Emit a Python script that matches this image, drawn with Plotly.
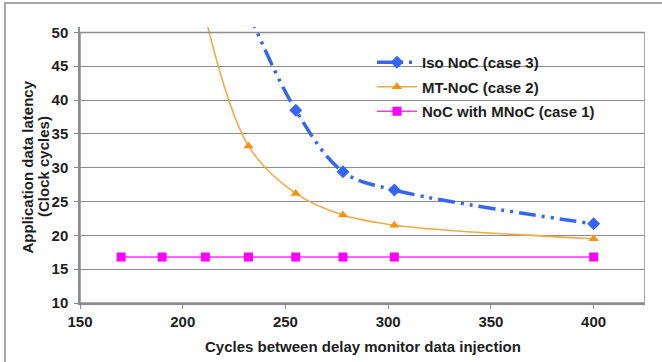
import plotly.graph_objects as go

# Injection interval (cycles) and resulting application data latency (clock cycles)
iso_x = [232, 255, 278, 303, 400]
iso_y = [53.0, 38.5, 29.4, 26.7, 21.7]

mt_x = [211, 232, 255, 278, 303, 400]
mt_y = [52.3, 33.2, 26.2, 23.0, 21.5, 19.5]

mnoc_x = [170, 190, 211, 232, 255, 278, 303, 400]
mnoc_y = [16.8, 16.8, 16.8, 16.8, 16.8, 16.8, 16.8, 16.8]

x_ticks = [150, 200, 250, 300, 350, 400]
y_ticks = [10, 15, 20, 25, 30, 35, 40, 45, 50]

y_title_lines = ["Application data latency", "(Clock cycles)"]

FONT = "Liberation Sans, Arial, sans-serif"
TXT = "#1e1e1e"
GRID = "#8c8c8c"
FS = 15

fig = go.Figure()

fig.add_trace(go.Scatter(
    x=iso_x, y=iso_y, name="Iso NoC (case 3)", legendgroup="a",
    mode="lines+markers", line=dict(color="#3366f5", width=3.5, shape="spline",
                                    dash="17px,6px,3px,6px,3px,6px"),
    marker=dict(symbol="diamond", size=10, color="#3366f5"),
))
fig.add_trace(go.Scatter(
    x=mt_x, y=mt_y, name="MT-NoC (case 2)", legendgroup="b",
    mode="lines+markers", line=dict(color="#f2aa45", width=1.6, shape="spline"),
    marker=dict(symbol="triangle-up", size=9, color="#f29311"),
))
fig.add_trace(go.Scatter(
    x=mnoc_x, y=mnoc_y, name="NoC with MNoC (case 1)", legendgroup="c",
    mode="lines+markers", line=dict(color="#ff33ff", width=1.6),
    marker=dict(symbol="square", size=9, color="#ff00ff"),
))

shapes = [
    # plot frame
    dict(type="rect", xref="x", yref="y", x0=150, x1=425, y0=10, y1=50,
         line=dict(color="#8c8c8c", width=1.5), layer="above"),
    # legend background hiding the gridlines
    dict(type="rect", xref="paper", yref="paper",
         x0=(357 - 80) / 565, x1=(608 - 80) / 565,
         y0=(303 - 126) / 276, y1=(303 - 40) / 276,
         fillcolor="white", line=dict(width=0), layer="between"),
    # outer chart border
    dict(type="rect", xref="paper", yref="paper",
         x0=(5 - 80) / 565, x1=1.2, y0=-0.5, y1=(303 - 3) / 276,
         line=dict(color="#a8a8a8", width=2)),
]

annotations = [
    dict(text="Cycles between delay monitor data injection", xref="paper", yref="paper",
         x=0.5, y=(303 - 346) / 276, xanchor="center", yanchor="middle",
         showarrow=False, font=dict(family=FONT, size=FS, color=TXT, weight="bold")),
]
# rotated y-axis title, one annotation per line for tighter line spacing
for line_text, px in zip(y_title_lines, [26.5, 43.0]):
    annotations.append(dict(
        text=line_text, xref="paper", yref="paper",
        x=(px - 80) / 565, y=(303 - 167) / 276, xanchor="center", yanchor="middle",
        textangle=-90, showarrow=False,
        font=dict(family=FONT, size=FS, color=TXT, weight="bold")))

fig.update_layout(
    width=662, height=362,
    margin=dict(l=80, r=17, t=27, b=59),
    paper_bgcolor="white", plot_bgcolor="white",
    showlegend=True,
    legend=dict(x=(372 - 80) / 565, y=(303 - 46) / 276, xanchor="left", yanchor="top",
                bgcolor="rgba(0,0,0,0)", borderwidth=0, tracegroupgap=2,
                itemwidth=40,
                font=dict(family=FONT, size=FS, color=TXT, weight="bold")),
    shapes=shapes, annotations=annotations,
    xaxis=dict(range=[150, 425], tickvals=x_ticks, showgrid=False, zeroline=False,
               showline=True, linecolor=GRID, linewidth=1.5,
               ticks="outside", ticklen=4, tickcolor=GRID,
               tickfont=dict(family=FONT, size=FS, color=TXT, weight="bold")),
    yaxis=dict(range=[10, 50.8], tickvals=y_ticks, showgrid=True, gridcolor=GRID,
               gridwidth=1, zeroline=False, showline=True, linecolor=GRID, linewidth=1.5,
               ticks="outside", ticklen=4, tickcolor=GRID, ticklabelstandoff=3,
               tickfont=dict(family=FONT, size=FS, color=TXT, weight="bold")),
)

fig.write_html("out.html")
